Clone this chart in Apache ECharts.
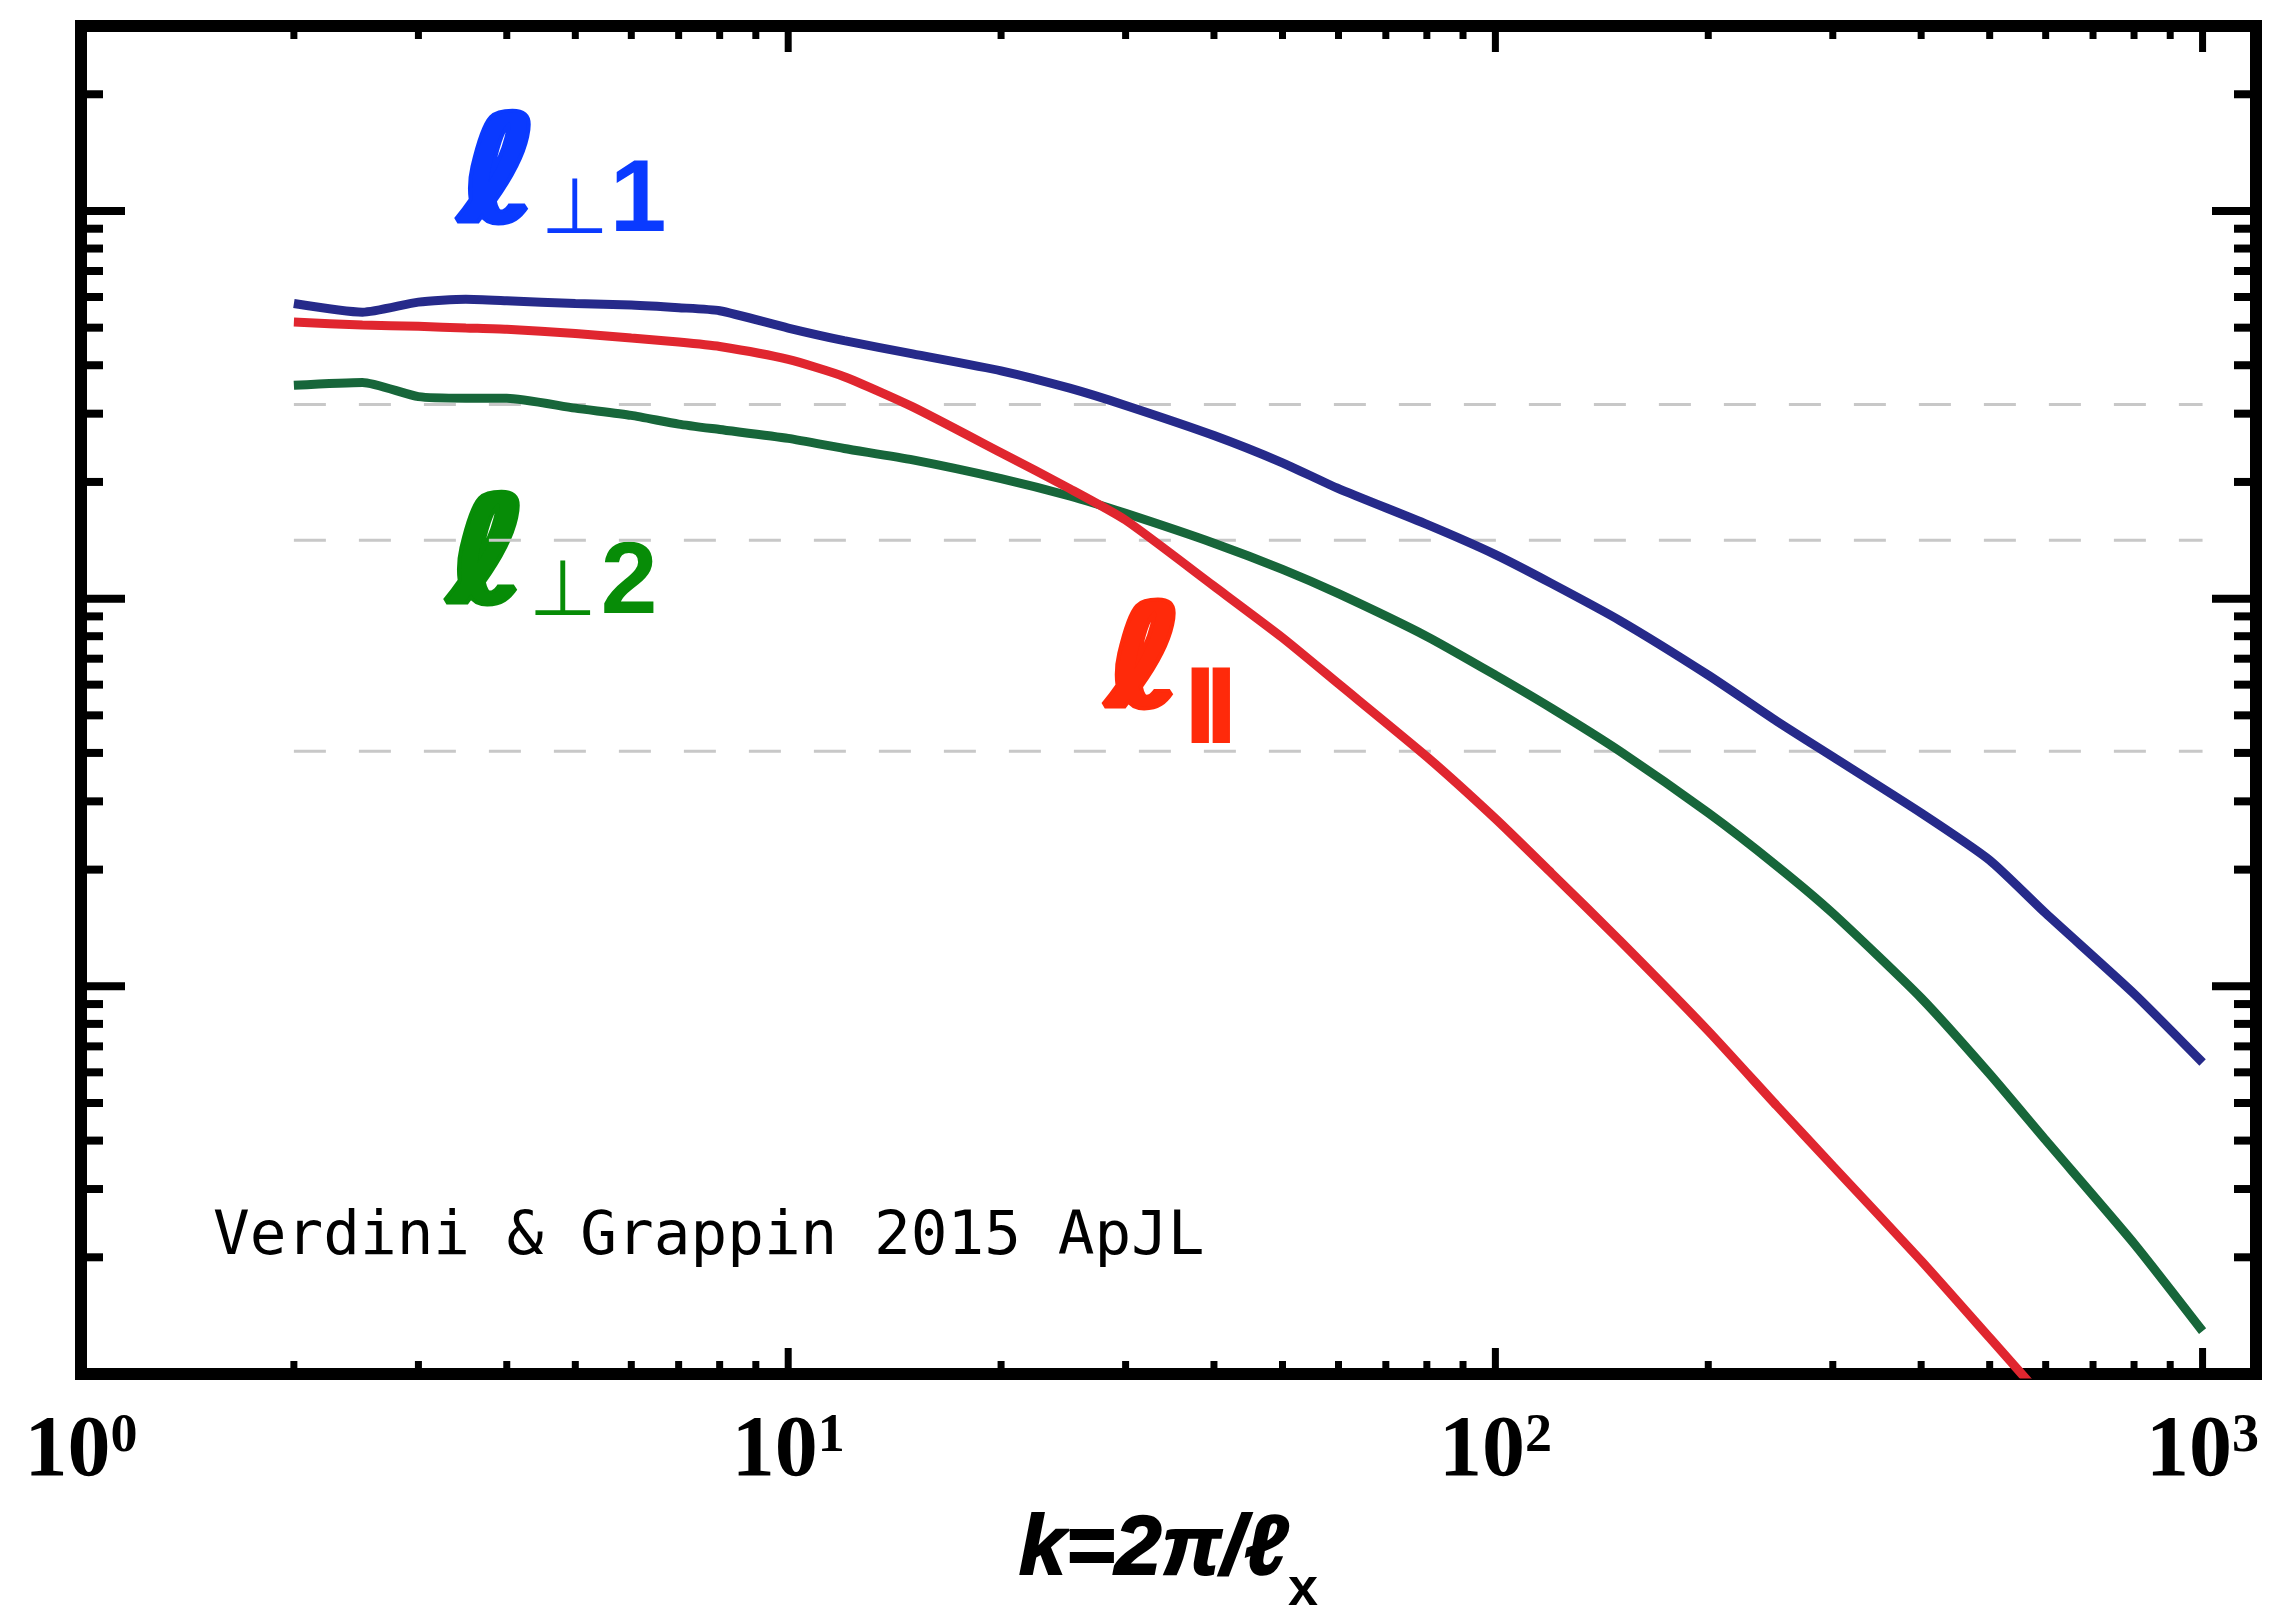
<!DOCTYPE html>
<html><head><meta charset="utf-8">
<script src="https://cdn.jsdelivr.net/npm/echarts@6.0.0/dist/echarts.min.js"></script>
<style>html,body{margin:0;padding:0;background:#fff;} #chart{width:2269px;height:1622px;}</style>
</head><body><div id="chart"></div>
<script>
// wavenumbers k = 2π/ℓx
const kValues = [2, 2.5, 3, 3.5, 4, 5, 6, 7, 8, 10, 12, 15, 20, 25, 30, 40, 50, 60, 80, 100, 120, 150, 200, 250, 300, 400, 500, 600, 800, 1000];
// ℓ⊥1 (blue)
const ellPerp1 = [0.577, 0.548, 0.582, 0.592, 0.587, 0.577, 0.572, 0.563, 0.553, 0.499, 0.463, 0.428, 0.387, 0.349, 0.315, 0.2635, 0.2241, 0.1922, 0.1554, 0.1299, 0.1095, 0.0878, 0.0635, 0.0483, 0.0391, 0.0280, 0.02115, 0.01543, 0.00957, 0.00636];
// ℓ⊥2 (green)
const ellPerp2 = [0.355, 0.361, 0.332, 0.329, 0.329, 0.310, 0.297, 0.282, 0.273, 0.259, 0.244, 0.228, 0.204, 0.184, 0.166, 0.139, 0.119, 0.103, 0.0799, 0.0635, 0.0522, 0.0404, 0.0280, 0.02044, 0.01543, 0.00933, 0.00594, 0.00401, 0.00217, 0.00129];
// ℓ∥ (red) – leaves the frame at the bottom
const ellPar = [0.517, 0.508, 0.504, 0.499, 0.495, 0.483, 0.470, 0.459, 0.447, 0.414, 0.3737, 0.3124, 0.2379, 0.1922, 0.1594, 0.1077, 0.0793, 0.0603, 0.0391, 0.02707, 0.01959, 0.01312, 0.00767, 0.00492, 0.00344, 0.00196, 0.00124, 0.000851, null, null];

const xMajorTicks = [1, 10, 100, 1000];
const xMinorTicks = [2, 3, 4, 5, 6, 7, 8, 9, 20, 30, 40, 50, 60, 70, 80, 90, 200, 300, 400, 500, 600, 700, 800, 900];
const yMajorTicks = [0.001, 0.01, 0.1, 1];
const yMinorTicks = [0.002, 0.003, 0.004, 0.005, 0.006, 0.007, 0.008, 0.009, 0.02, 0.03, 0.04, 0.05, 0.06, 0.07, 0.08, 0.09, 0.2, 0.3, 0.4, 0.5, 0.6, 0.7, 0.8, 0.9, 2];
const refLevels = [0.317, 0.1415, 0.0404];
const refRange = [2, 1000];

const X_MIN = 1, X_MAX = 1190, Y_MIN = 0.001, Y_MAX = 3;
const BLUE_LINE = '#262a8a', GREEN_LINE = '#17663a', RED_LINE = '#e0262f';
const BLUE_TXT = '#0a3aff', GREEN_TXT = '#078c07', RED_TXT = '#ff2a0a';

function tickSeries(values, dir, len, width) {
  return {
    type: 'custom', coordinateSystem: 'cartesian2d', silent: true, clip: false, z: 10,
    data: values.map(v => dir === 'x' ? [v, Y_MIN] : [X_MIN, v]),
    encode: { x: 0, y: 1 },
    renderItem(params, api) {
      const cs = params.coordSys;
      const p = api.coord([api.value(0), api.value(1)]);
      const st = { stroke: '#000', lineWidth: width };
      if (dir === 'x') {
        const b = cs.y + cs.height, t = cs.y;
        return { type: 'group', children: [
          { type: 'line', shape: { x1: p[0], y1: b, x2: p[0], y2: b - len }, style: st },
          { type: 'line', shape: { x1: p[0], y1: t, x2: p[0], y2: t + len }, style: st }
        ]};
      }
      const l = cs.x, r = cs.x + cs.width;
      return { type: 'group', children: [
        { type: 'line', shape: { x1: l, y1: p[1], x2: l + len, y2: p[1] }, style: st },
        { type: 'line', shape: { x1: r, y1: p[1], x2: r - len, y2: p[1] }, style: st }
      ]};
    }
  };
}

function curve(name, vals, color) {
  return {
    name, type: 'line', showSymbol: false, smooth: 0.2, clip: true, z: 5,
    data: kValues.map((k, i) => [k, vals[i]]).filter(d => d[1] !== null),
    lineStyle: { color, width: 9 }
  };
}

const refSeries = refLevels.map(v => ({
  type: 'line', showSymbol: false, silent: true, z: 2,
  data: [[refRange[0], v], [refRange[1], v]],
  lineStyle: { color: '#c8c8c8', width: 3, type: [32, 33] }
}));

function ell(x, y, size, color) {
  return { type: 'text', x, y, scaleX: 1.15, style: { text: 'ℓ', font: 'italic bold ' + size + 'px "DejaVu Sans"', fill: color, stroke: color, lineWidth: 7, align: 'center', verticalAlign: 'middle' } };
}

const chart = echarts.init(document.getElementById('chart'), null, { renderer: 'canvas' });
chart.setOption({
  animation: false,
  backgroundColor: '#fff',
  grid: { left: 81, right: 13, top: 26, bottom: 239, show: true, borderColor: '#000', borderWidth: 12, backgroundColor: 'transparent' },
  xAxis: {
    type: 'log', logBase: 10, min: X_MIN, max: X_MAX,
    axisLine: { show: false }, axisTick: { show: false }, splitLine: { show: false },
    axisLabel: {
      margin: 36,
      formatter: v => { const e = Math.log10(v); const r = Math.round(e); if (Math.abs(e - r) > 1e-6) return ''; return '{b|10}{s|' + r + '}'; },
      rich: {
        b: { fontSize: 86, lineHeight: 86, fontWeight: 'bold', fontFamily: 'Liberation Serif', color: '#000' },
        s: { fontSize: 54, lineHeight: 40, fontWeight: 'bold', fontFamily: 'Liberation Serif', color: '#000', verticalAlign: 'top' }
      }
    },
    name: '{a|k=2π/ℓ}{x|x}',
    nameLocation: 'middle', nameGap: 135,
    nameTextStyle: {
      rich: {
        a: { fontSize: 84, lineHeight: 84, fontWeight: 'bold', fontStyle: 'italic', fontFamily: 'Liberation Sans', color: '#000', textBorderColor: '#000', textBorderWidth: 2 },
        x: { fontSize: 54, lineHeight: 54, fontWeight: 'bold', fontFamily: 'Liberation Sans', color: '#000', verticalAlign: 'bottom', padding: [0, 0, -24, 0] }
      }
    }
  },
  yAxis: {
    type: 'log', logBase: 10, min: Y_MIN, max: Y_MAX,
    axisLine: { show: false }, axisTick: { show: false }, axisLabel: { show: false }, splitLine: { show: false }
  },
  series: [
    ...refSeries,
    curve('ℓ⊥1', ellPerp1, BLUE_LINE),
    curve('ℓ⊥2', ellPerp2, GREEN_LINE),
    curve('ℓ∥', ellPar, RED_LINE),
    tickSeries(xMajorTicks, 'x', 26, 7),
    tickSeries(xMinorTicks, 'x', 13, 7),
    tickSeries(yMajorTicks, 'y', 44, 8),
    tickSeries(yMinorTicks, 'y', 22, 8)
  ],
  graphic: [
    ell(499, 182, 145, BLUE_TXT),
    { type: 'text', x: 575, y: 213, style: { text: '⊥', font: '78px "DejaVu Sans"', fill: BLUE_TXT, align: 'center', verticalAlign: 'middle' } },
    { type: 'text', x: 638, y: 203, style: { text: '1', font: 'bold 102px "Liberation Sans"', fill: BLUE_TXT, align: 'center', verticalAlign: 'middle' } },

    ell(488, 563, 145, GREEN_TXT),
    { type: 'text', x: 563, y: 595, style: { text: '⊥', font: '78px "DejaVu Sans"', fill: GREEN_TXT, align: 'center', verticalAlign: 'middle' } },
    { type: 'text', x: 629, y: 585, style: { text: '2', font: 'bold 102px "Liberation Sans"', fill: GREEN_TXT, align: 'center', verticalAlign: 'middle' } },

    ell(1145, 669, 140, RED_TXT),
    { type: 'text', x: 1209, y: 707, scaleX: 1.5, style: { text: '∥', font: 'bold 74px "DejaVu Sans"', fill: RED_TXT, stroke: RED_TXT, lineWidth: 3, align: 'center', verticalAlign: 'middle' } },

    { type: 'text', x: 213, y: 1238, style: { text: 'Verdini & Grappin 2015 ApJL', font: '61px "DejaVu Sans Mono"', fill: '#000', align: 'left', verticalAlign: 'middle' } }
  ]
});
</script>
</body></html>
